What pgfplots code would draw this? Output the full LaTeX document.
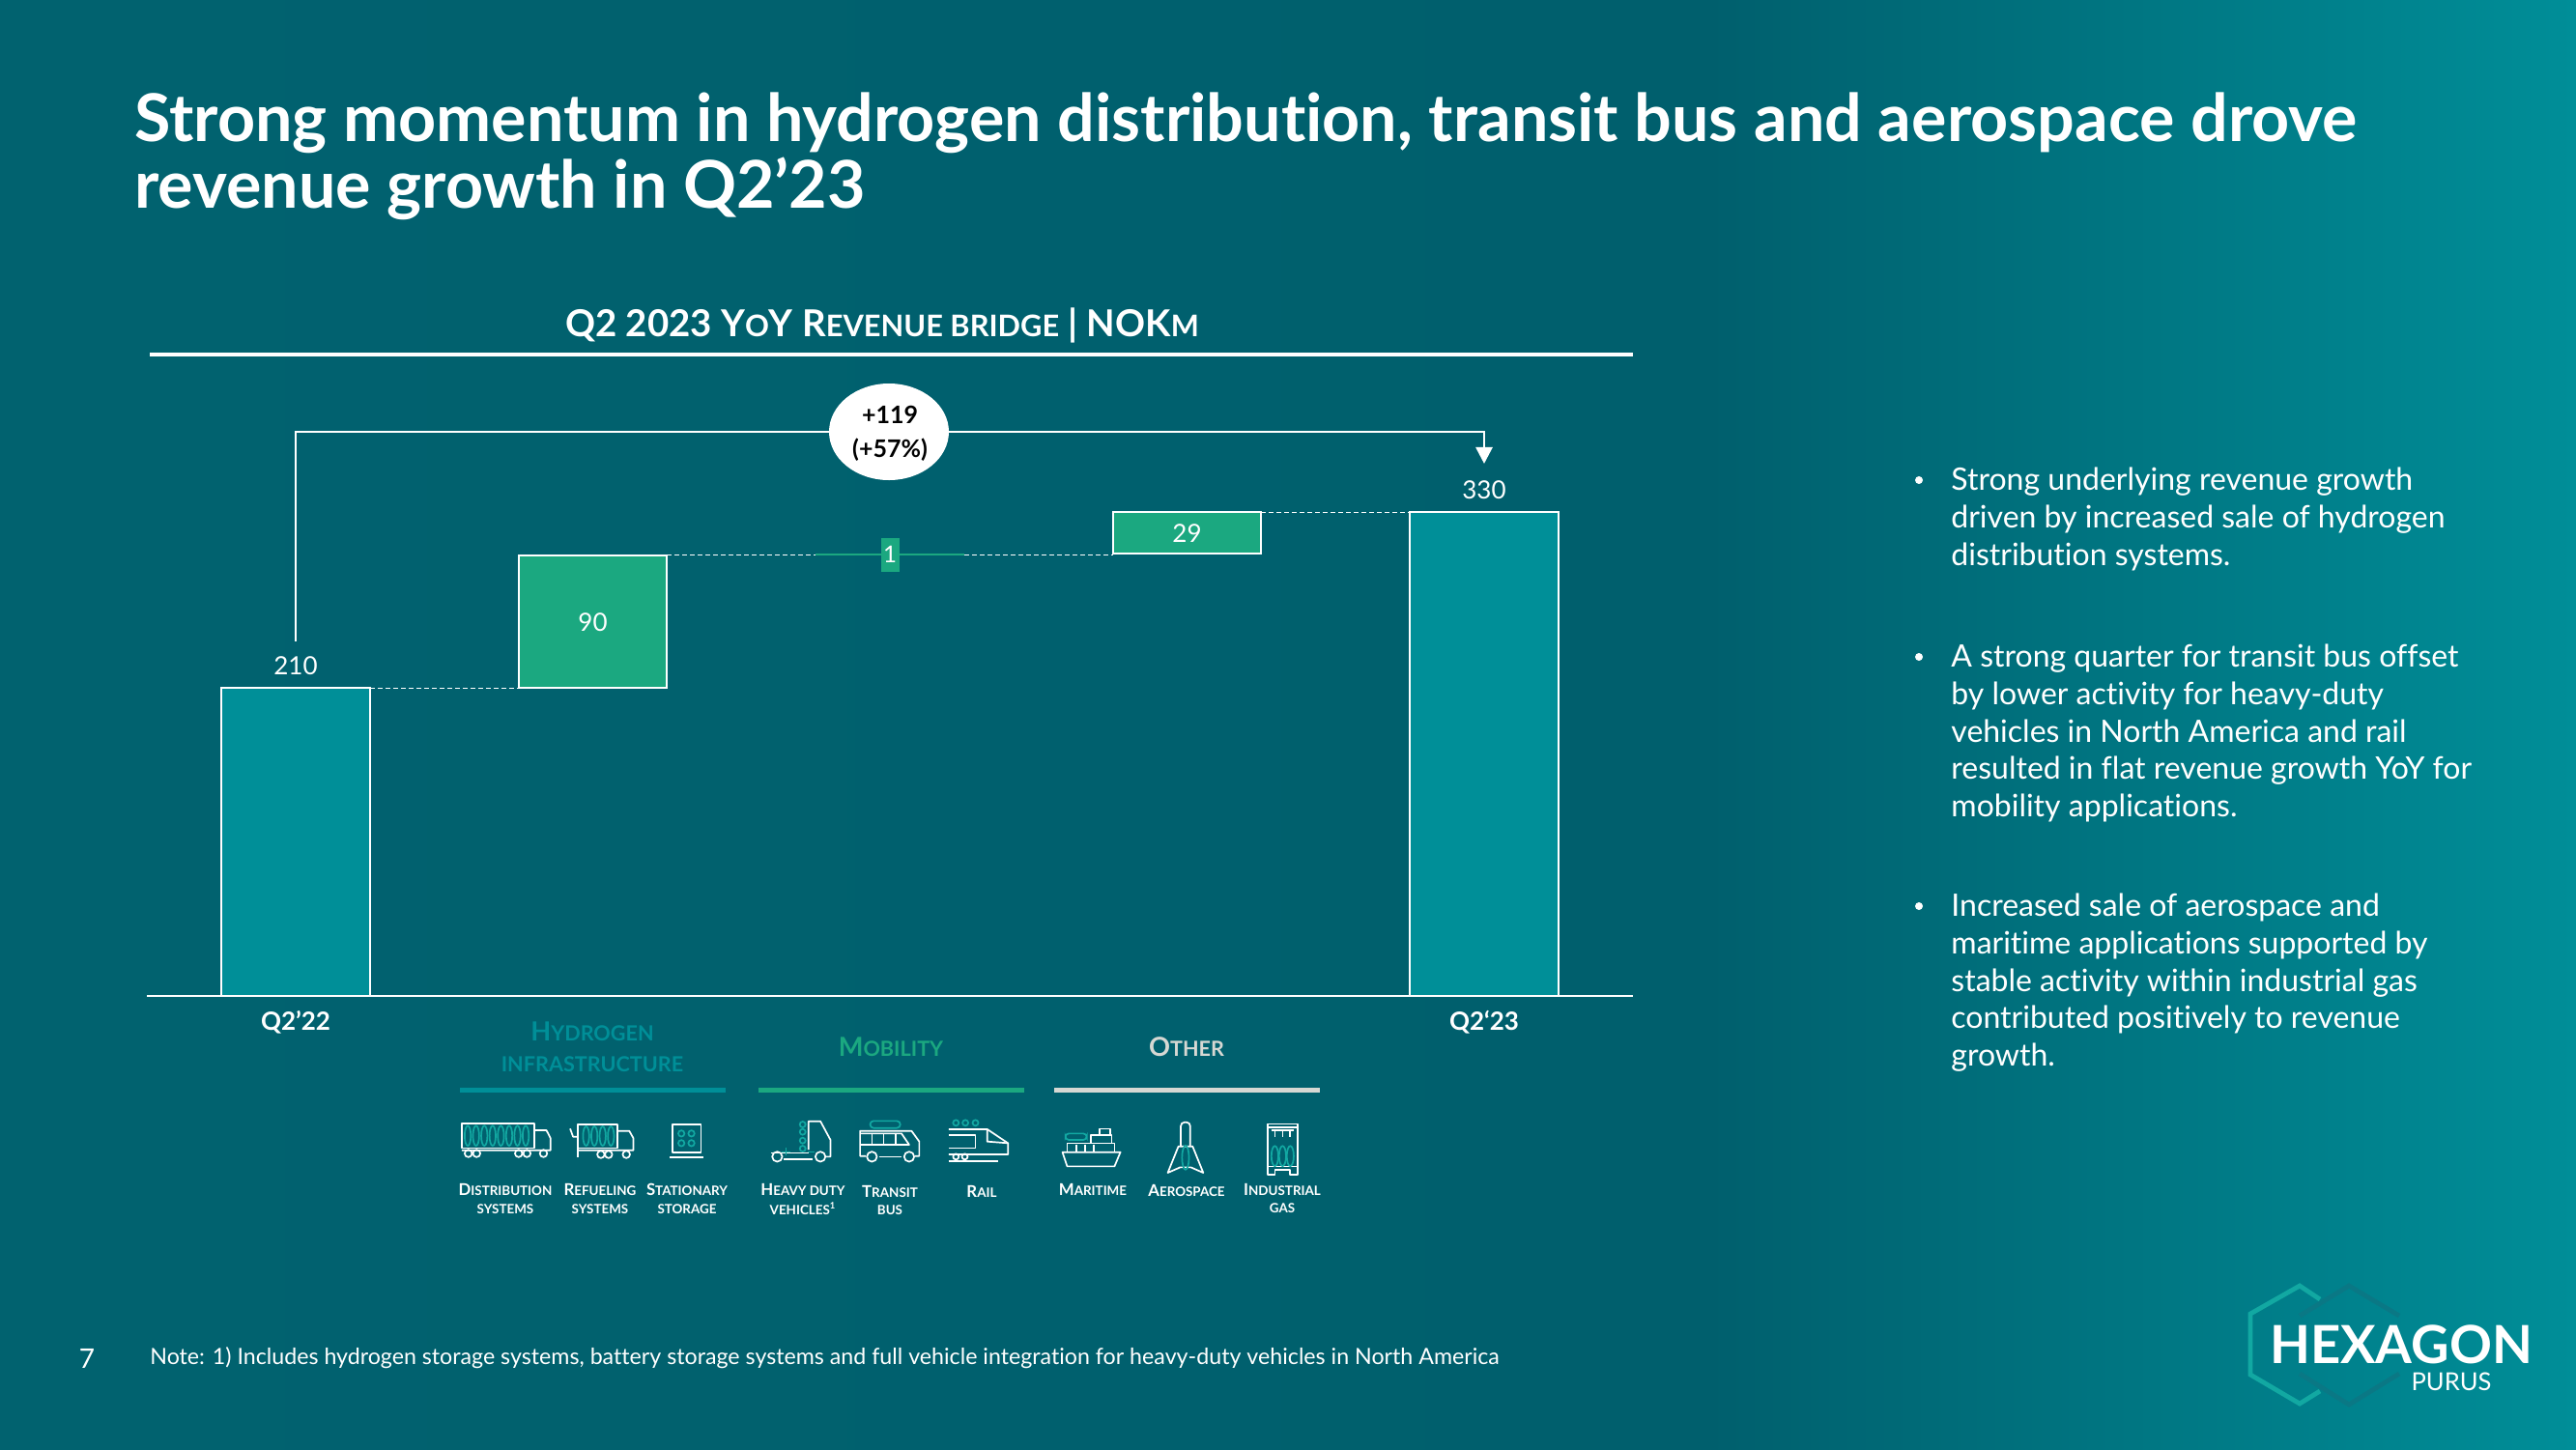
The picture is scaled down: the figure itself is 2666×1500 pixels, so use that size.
\documentclass[border=0pt]{standalone}
\usepackage{pgfplots}
\pgfplotsset{compat=1.18}
\usepackage{pgfplotstable}
\usepackage{fontspec}
\usetikzlibrary{arrows.meta}
\setmainfont{Lato}[Ligatures=NoCommon]
\definecolor{bgdark}{HTML}{005F6D}
\definecolor{bgleft}{HTML}{01626F}
\definecolor{bgright}{HTML}{008E98}
\definecolor{hxteal}{HTML}{008F98}
\definecolor{hxgreen}{HTML}{1BA880}
\definecolor{hxgrey}{HTML}{D6D8D3}
\definecolor{icont}{HTML}{12A8A2}
\definecolor{logodark}{HTML}{0A7885}
\newcommand\fs[1]{\fontsize{#1}{#1}\selectfont}
% fake small caps: big first letter, then small capitals
\newcommand\smc[2]{{\fs{8.4}#1\fs{6.7}#2}}
\newcommand\hdr[2]{{\fs{13.6}#1\fs{10.8}#2}}
\newcommand\ttl[2]{{\fs{19.2}#1\fs{15.4}#2}}
\tikzset{
  px/.style={x=0.5pt,y=-0.5pt},
  ic/.style={shift={(220pt,-500pt)},x=0.3062pt,y=-0.16667pt},
  iw/.style={draw=white,line width=0.85pt,line join=round},
  it/.style={draw=icont,line width=0.85pt},
  lab/.style={text=white,align=center,inner sep=0pt,font=\bfseries},
}
\pgfplotsset{
  bridge/.style={
    at={(76.125pt,-515.5pt)},anchor=south west,
    scale only axis,width=768.75pt,height=303.6pt,
    xmin=-0.5,xmax=4.5,ymin=0,ymax=400,
    ybar stacked,bar width=0.5,clip=false,
  },
}
\pgfplotstableread{
x base total infra other
0 0     210 0    0
1 210   0   90.5 0
3 301.5 0   0    28.5
4 0     330 0    0
}\bridgedata
\begin{document}
\begin{tikzpicture}
\begin{scope}[px]
\path[use as bounding box] (0,0) rectangle (2666,1500);
\fill[left color=bgleft,right color=bgdark] (0,0) rectangle (1769,1500);
\fill[left color=bgdark,right color=bgright] (1768,0) rectangle (2666,1500);

\node[anchor=west,text=white,font=\bfseries\fs{34.1},inner sep=0pt] at (139,127) {Strong momentum in hydrogen distribution, transit bus and aerospace drove};
\node[anchor=west,text=white,font=\bfseries\fs{34.1},inner sep=0pt] at (139,195) {revenue growth in Q2’23};

\node[text=white,font=\bfseries,inner sep=0pt] at (913,337) {\ttl{Q2 2023 Y}{O}\ttl{Y R}{EVENUE BRIDGE}\ttl{ | NOK}{M}};
\draw[white,line width=1.7pt] (155,367) -- (1690,367);
\end{scope}

% main bars
\begin{axis}[bridge,
  axis y line=none,axis x line=bottom,
  x axis line style={-,white,line width=0.8pt},
  xtick={0,1,2,3,4},xticklabels={Q2’22,,,,Q2‘23},
  major tick length=0pt,
  xticklabel style={text=white,font=\bfseries\fs{13},inner sep=0pt,yshift=-7.5pt},
]
\addplot[draw=none,fill=none] table[x=x,y=base] {\bridgedata};
\addplot[fill=hxteal,draw=white,line width=1.1pt] table[x=x,y=total] {\bridgedata};
\addplot[fill=hxgreen,draw=white,line width=1.1pt] table[x=x,y=infra] {\bridgedata};
\addplot[fill=hxgreen,draw=white,line width=1.1pt] table[x=x,y=other] {\bridgedata};
\end{axis}

% mobility bar and connectors, same scale
\begin{axis}[bridge,hide axis]
\addplot[draw=none,fill=none] coordinates {(2,300.5)};
\addplot[fill=hxgreen,draw=none] coordinates {(2,1)};
\end{axis}

\begin{axis}[at={(76.125pt,-515.5pt)},anchor=south west,scale only axis,width=768.75pt,height=303.6pt,
  xmin=-0.5,xmax=4.5,ymin=0,ymax=400,hide axis,clip=false]
\addplot[white,line width=0.5pt,dash pattern=on 2.5pt off 1.5pt] coordinates {(0.25,210) (0.75,210)};
\addplot[white,line width=0.5pt,dash pattern=on 2.5pt off 1.5pt] coordinates {(1.25,301) (1.75,301)};
\addplot[white,line width=0.5pt,dash pattern=on 2.5pt off 1.5pt] coordinates {(2.25,301) (2.75,301)};
\addplot[white,line width=0.5pt,dash pattern=on 2.5pt off 1.5pt] coordinates {(3.25,330) (3.75,330)};
\addplot[white,line width=1.4pt,-{Triangle[width=8.5pt,length=8.5pt]}] coordinates {(0,242) (0,384.7) (4,384.7) (4,363)};
\node[text=white,font=\fs{13},inner sep=0pt] at (axis cs:0,225.4) {210};
\node[text=white,font=\fs{13},inner sep=0pt] at (axis cs:1,255) {90};
\node[text=white,font=\fs{12},fill=hxgreen,minimum width=9.5pt,minimum height=17.5pt,inner sep=0pt] at (axis cs:2,300.9) {1};
\node[text=white,font=\fs{13},inner sep=0pt] at (axis cs:3,315.6) {29};
\node[text=white,font=\fs{13},inner sep=0pt] at (axis cs:4,345) {330};
\end{axis}

\begin{scope}[px]
% bubble
\fill[white] (920,447) ellipse [x radius=31pt,y radius=25pt];
\node[text=black,font=\bfseries\fs{12.5},align=center,inner sep=0pt] at (921,449) {+119\\[5pt](+57\%)};

% group headers
\node[text=hxteal,font=\bfseries,inner sep=0pt] at (613,1068) {\hdr{H}{YDROGEN}};
\node[text=hxteal,font=\bfseries,inner sep=0pt] at (613,1102) {\fs{10.8}INFRASTRUCTURE};
\node[text=hxgreen,font=\bfseries,inner sep=0pt] at (922,1084) {\hdr{M}{OBILITY}};
\node[text=hxgrey,font=\bfseries,inner sep=0pt] at (1228,1084) {\hdr{O}{THER}};
\fill[hxteal] (476,1125.5) rectangle (750.5,1130.5);
\fill[hxgreen] (785,1125.5) rectangle (1060,1130.5);
\fill[hxgrey] (1091,1125.5) rectangle (1366,1130.5);

% icon captions
\node[lab] at (523,1231) {\smc{D}{ISTRIBUTION}};
\node[lab] at (523,1252) {\fs{6.7}SYSTEMS};
\node[lab] at (621,1231) {\smc{R}{EFUELING}};
\node[lab] at (621,1252) {\fs{6.7}SYSTEMS};
\node[lab] at (711,1231) {\smc{S}{TATIONARY}};
\node[lab] at (711,1252) {\fs{6.7}STORAGE};
\node[lab] at (831,1231) {\smc{H}{EAVY DUTY}};
\node[lab] at (831,1251) {\fs{6.7}VEHICLES\textsuperscript{1}};
\node[lab] at (921,1233) {\smc{T}{RANSIT}};
\node[lab] at (921,1253) {\fs{6.7}BUS};
\node[lab] at (1016,1233) {\smc{R}{AIL}};
\node[lab] at (1131,1231) {\smc{M}{ARITIME}};
\node[lab] at (1228,1232) {\smc{A}{EROSPACE}};
\node[lab] at (1327,1231) {\smc{I}{NDUSTRIAL}};
\node[lab] at (1327,1251) {\fs{6.7}GAS};

% bullets
\foreach \yy in {497,680,938} \fill[white] (1986,\yy) circle [radius=2pt];
\node[anchor=north west,text=white,align=left,inner sep=0pt,font=\fontsize{16}{19.3}\selectfont] at (2019,484) {Strong underlying revenue growth\\driven by increased sale of hydrogen\\distribution systems.};
\node[anchor=north west,text=white,align=left,inner sep=0pt,font=\fontsize{16}{19.3}\selectfont] at (2019,667) {A strong quarter for transit bus offset\\by lower activity for heavy-duty\\vehicles in North America and rail\\resulted in flat revenue growth YoY for\\mobility applications.};
\node[anchor=north west,text=white,align=left,inner sep=0pt,font=\fontsize{16}{19.3}\selectfont] at (2019,925) {Increased sale of aerospace and\\maritime applications supported by\\stable activity within industrial gas\\contributed positively to revenue\\growth.};

% footer
\node[text=white,font=\fs{14},inner sep=0pt] at (90,1406) {7};
\node[anchor=west,text=white,font=\fs{11.6},inner sep=0pt] at (155,1406) {Note: 1) Includes hydrogen storage systems, battery storage systems and full vehicle integration for heavy-duty vehicles in North America};

% logo
\draw[color=logodark,line width=2.4pt] (2380,1362) -- (2431,1331) -- (2483,1362);
\draw[color=logodark,line width=2.4pt] (2380,1422) -- (2431,1454) -- (2483,1422);
\draw[color=icont,line width=2.4pt,line join=miter] (2401,1345) -- (2380,1331) -- (2329,1360) -- (2329,1423) -- (2380,1453) -- (2401,1440);
\node[text=white,font=\bfseries\fs{27.2},inner sep=0pt] at (2485,1392) {HEXAGON};
\node[text=white,font=\fs{12.8},inner sep=0pt] at (2537,1430) {PURUS};
\end{scope}

% icons, coordinates as read from the crop of this band
\begin{scope}[ic]
% distribution truck
\draw[iw] (62,489) rectangle (185,565);
\foreach \xx in {72,86,100,114,128,142,156,170} \draw[it] (\xx,527) ellipse [x radius=1.6pt,y radius=5.2pt];
\draw[iw] (185,510) -- (205,510) -- (212,535) -- (212,572) -- (62,572);
\foreach \xx in {73,87,158,172,200} \draw[iw] (\xx,582) circle [radius=1.9pt];
% refuelling truck
\draw[iw] (245,505) -- (250,530) -- (258,530);
\draw[iw] (258,492) rectangle (325,565);
\foreach \xx in {272,286,300,314} \draw[it] (\xx,528) ellipse [x radius=1.6pt,y radius=5pt];
\draw[iw] (325,512) -- (345,512) -- (352,535) -- (352,572) -- (258,572);
\draw[iw] (258,565) -- (258,595);
\foreach \xx in {297,310,340} \draw[iw] (\xx,585) circle [radius=1.9pt];
% stationary storage
\draw[iw] (418,492) rectangle (466,578);
\draw[iw] (413,594) -- (470,594);
\foreach \xx/\yy in {433/520,450/520,433/550,450/550} \draw[it] (\xx,\yy) circle [radius=1.6pt];
% heavy duty
\draw[iw] (648,570) -- (648,482) -- (668,482) -- (685,540) -- (685,592) -- (678,592);
\draw[iw] (585,580) -- (648,580);
\draw[iw] (605,600) -- (655,600);
\foreach \xx/\yy in {638/492,638/515,638/542,638/567} \draw[it] (\xx,\yy) circle [radius=1.5pt];
\foreach \xx in {595,668} \draw[iw] (\xx,592) circle [radius=2.6pt];
\draw[it] (603,577) -- (618,577) (610,565) -- (610,589) (646,577) -- (658,577);
% bus
\draw[it,rounded corners=1.8pt] (752,481) rectangle (803,503);
\draw[iw] (745,590) -- (735,590) -- (735,512) -- (822,512) -- (835,545) -- (835,590) -- (828,590);
\draw[iw] (735,555) -- (818,555) -- (805,520) -- (735,520);
\foreach \xx in {755,775,795} \draw[iw] (\xx,520) -- (\xx,555);
\draw[iw] (768,592) -- (805,592);
\foreach \xx in {755,818} \draw[iw] (\xx,592) circle [radius=2.6pt];
% rail
\foreach \xx in {897,913,930} \draw[it] (\xx,487) circle [radius=1.5pt];
\draw[iw] (885,507) -- (950,507) -- (985,550) -- (985,585) -- (885,585);
\draw[iw] (885,525) -- (930,525) -- (930,565) -- (885,565);
\draw[iw] (950,507) -- (950,545) -- (985,550);
\foreach \xx in {897,912} \draw[iw] (\xx,592) circle [radius=1.5pt];
\draw[iw] (885,605) -- (968,605);
% maritime
\draw[iw] (1077,578) -- (1175,578) -- (1165,622) -- (1085,622) -- cycle;
\draw[iw] (1085,578) -- (1085,550) -- (1165,550) -- (1165,578);
\foreach \xx in {1100,1115,1130} \draw[iw] (\xx,555) -- (\xx,575);
\draw[it,rounded corners=1.8pt] (1082,520) rectangle (1118,540);
\draw[iw] (1125,550) -- (1125,525) -- (1160,525) -- (1160,550);
\draw[iw] (1140,525) -- (1140,505) -- (1158,505) -- (1158,525);
% aerospace
\draw[iw,rounded corners=2pt] (1277,560) -- (1277,485) -- (1293,485) -- (1293,560);
\draw[iw] (1273,560) -- (1255,642) -- (1276,625) -- (1294,625) -- (1315,642) -- (1297,560) -- cycle;
\draw[it] (1285,595) ellipse [x radius=1.8pt,y radius=6.2pt];
% industrial gas
\draw[iw] (1424,490) rectangle (1474,622);
\draw[iw] (1424,500) -- (1474,500);
\draw[iw] (1424,622) -- (1424,648) -- (1436,648) -- (1436,632) -- (1462,632) -- (1462,648) -- (1474,648) -- (1474,622);
\foreach \xx in {1436,1449,1462} {\draw[it] (\xx,590) ellipse [x radius=1.8pt,y radius=5.2pt]; \draw[iw] (\xx,510) -- (\xx,530);}
\draw[iw] (1430,510) -- (1468,510);
\end{scope}
\end{tikzpicture}
\end{document}
